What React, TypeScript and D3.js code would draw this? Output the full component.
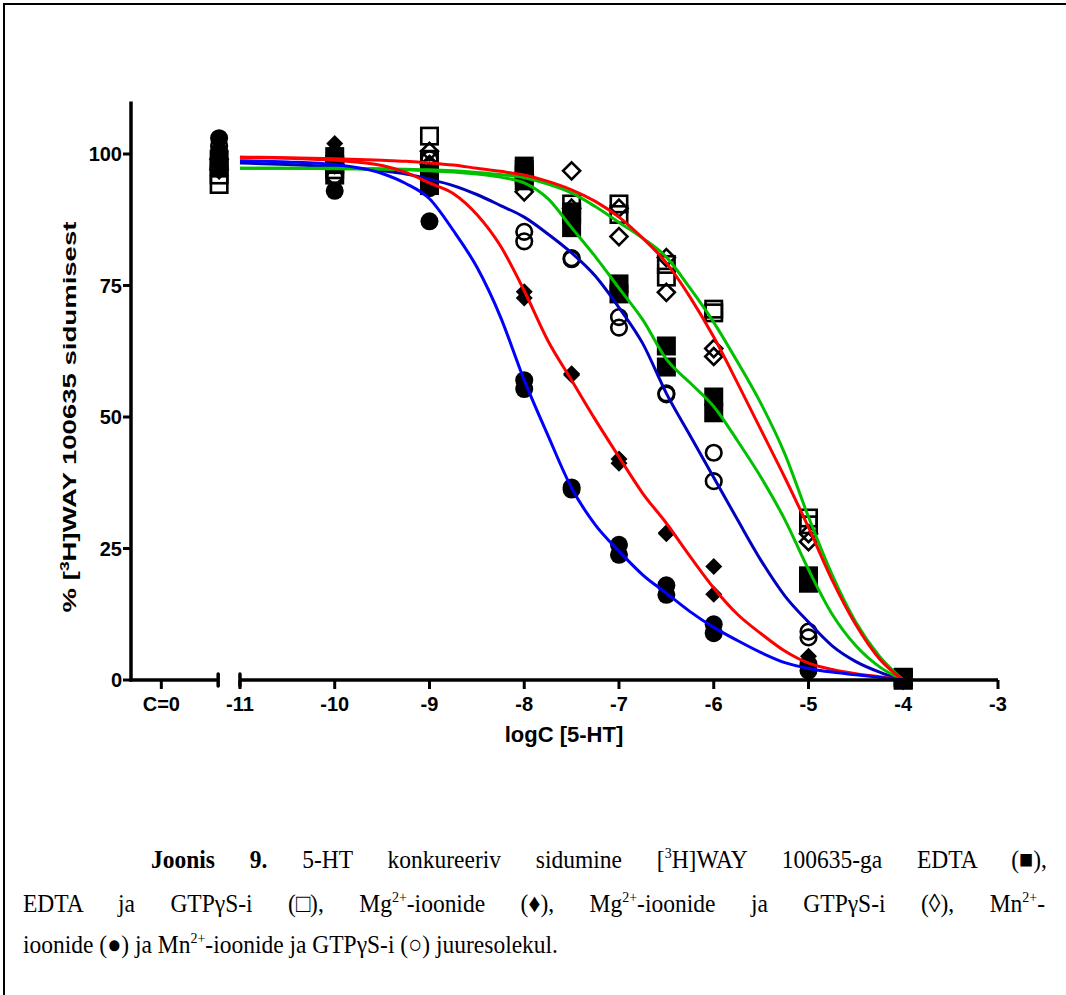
import React, { useLayoutEffect, useRef } from "react";
import * as d3 from "d3";

// ---------- data ----------
const xTickValues = [-11, -10, -9, -8, -7, -6, -5, -4, -3];
const controlTickLabel = "C=0";
const doses = [-11.22, -10, -9, -8, -7.5, -7, -6.5, -6, -5, -4]; // first = control (C=0) column

const edtaRep1 = [99, 99.5, 96, 97.7, 89, 75.3, 63.5, 53.8, 19.8, 0.5];
const edtaRep2 = [97.5, 98, 94, 94.9, 86, 73.4, 59.5, 50.8, 18.4, 0];
const edtaGtpRep1 = [96, 97, 103.4, 97, 90.5, 90.5, 79, 70.5, 30.8, 0.5];
const edtaGtpRep2 = [94.2, 96, 99, 96, 88.5, 88.5, 76.6, 69.8, 29.5, 0];
const mgRep1 = [100, 102, 97, 73.8, 58.2, 42, 28, 21.6, 4.5, 0.5];
const mgRep2 = [101, 100.5, 95, 72.6, 58, 41.2, 27.8, 16.3, 3, 0];
const mgGtpRep1 = [99, 99, 100.5, 92.8, 96.8, 89.7, 80.3, 63, 27.8, 0.3];
const mgGtpRep2 = [97, 98, 98, 96, 89.7, 84.3, 73.7, 61.5, 26.3, 0];
const mnRep1 = [103, 100, 93.5, 57, 36.6, 25.7, 18, 10.6, 3, 0.3];
const mnRep2 = [100.5, 93, 87.2, 55.3, 36.2, 23.8, 16.2, 8.9, 1.8, 0];
const mnGtpRep1 = [101.5, 96, 99, 85.2, 80.2, 69, 54.5, 43.2, 9.2, 0.3];
const mnGtpRep2 = [100, 95.5, 97.5, 83.4, 80, 67, 54.3, 37.8, 8.1, 0];

const curveX = [-11, -10.5, -10, -9.5, -9.25, -9, -8.75, -8.5, -8.25, -8, -7.75, -7.5, -7.25, -7, -6.75, -6.5, -6.25, -6, -5.75, -5.5, -5.25, -5, -4.75, -4.5, -4.25, -4];
const curveMn = [98.7, 98.5, 98.0, 96.3, 94.4, 91.5, 85.5, 78.5, 69, 57, 46.5, 36.5, 29.5, 24.5, 20, 16.5, 13, 10, 7.5, 5.2, 3.3, 2.2, 1.5, 1.0, 0.5, 0];
const curveMg = [99.4, 99.2, 98.8, 97.8, 96.5, 94.5, 92.5, 88.5, 82.5, 74, 64.5, 57, 49.5, 42.4, 35.5, 29.8, 23.5, 17.5, 12.5, 8.8, 5.5, 3.2, 2, 1.2, 0.6, 0];
const curveMnGtp = [98.3, 98.0, 97.6, 96.8, 96.2, 95.2, 94, 92.3, 90.2, 88, 84.8, 81.2, 76.8, 70.8, 64, 54.5, 46.5, 38.5, 30.5, 22.7, 16, 11, 6.5, 3.5, 1.5, 0];
const curveEdta = [97.3, 97.3, 97.2, 97.1, 97, 96.8, 96.6, 96.2, 95.6, 94.5, 91.5, 86, 80.5, 74.5, 68.5, 61, 56.5, 52, 45.5, 38.5, 30.5, 21, 12.5, 6.5, 2.5, 0];
const curveMgGtp = [99.4, 99.3, 99.1, 98.8, 98.6, 98.3, 97.9, 97.3, 96.7, 96, 94.8, 93.2, 91, 88, 84, 79.3, 72.8, 65.2, 56.5, 47.5, 38.5, 29, 19, 10.5, 4, 0];
const curveEdtaGtp = [97.3, 97.3, 97.3, 97.2, 97.1, 97, 96.8, 96.5, 96.1, 95.5, 94.3, 92.6, 90, 87, 84, 80.4, 74.5, 68, 60.5, 52.5, 43, 31, 20, 11, 4.5, 0];

const yTickValues = [0, 25, 50, 75, 100];

// ---------- layout ----------
const W = 1066;
const H = 995;
const x = d3.scaleLinear().domain([-12.15, -3]).range([131, 998]);
const y = d3.scaleLinear().domain([0, 110]).range([680, 101.4]);
const controlTickPos = -11.83;
const breakLeft = -11.23;

type MarkerKind = "fsq" | "osq" | "fdi" | "odi" | "fci" | "oci";

const series: { kind: MarkerKind; reps: number[][] }[] = [
  { kind: "fsq", reps: [edtaRep1, edtaRep2] },
  { kind: "osq", reps: [edtaGtpRep1, edtaGtpRep2] },
  { kind: "fdi", reps: [mgRep1, mgRep2] },
  { kind: "odi", reps: [mgGtpRep1, mgGtpRep2] },
  { kind: "fci", reps: [mnRep1, mnRep2] },
  { kind: "oci", reps: [mnGtpRep1, mnGtpRep2] },
];

const curves: { vals: number[]; color: string }[] = [
  { vals: curveMnGtp, color: "#0000C0" },
  { vals: curveEdta, color: "#00C000" },
  { vals: curveEdtaGtp, color: "#00C000" },
  { vals: curveMgGtp, color: "#FF0000" },
  { vals: curveMg, color: "#FF0000" },
  { vals: curveMn, color: "#0000FF" },
];

function Marker({ kind, cx, cy }: { kind: MarkerKind; cx: number; cy: number }) {
  switch (kind) {
    case "fsq":
      return <rect x={cx - 9.5} y={cy - 9.5} width={19} height={19} fill="#000" />;
    case "osq":
      return <rect x={cx - 8.2} y={cy - 8.2} width={16.4} height={16.4} fill="none" stroke="#000" strokeWidth={2.6} />;
    case "fdi":
      return <path d={`M${cx},${cy - 8.5}L${cx + 8.5},${cy}L${cx},${cy + 8.5}L${cx - 8.5},${cy}Z`} fill="#000" />;
    case "odi":
      return <path d={`M${cx},${cy - 8.5}L${cx + 8.5},${cy}L${cx},${cy + 8.5}L${cx - 8.5},${cy}Z`} fill="none" stroke="#000" strokeWidth={2.6} />;
    case "fci":
      return <circle cx={cx} cy={cy} r={9} fill="#000" />;
    case "oci":
      return <circle cx={cx} cy={cy} r={7.8} fill="none" stroke="#000" strokeWidth={2.6} />;
  }
}

export default function App() {
  const line = d3
    .line<number>()
    .x((_, i) => x(curveX[i]))
    .y((d) => y(d))
    .curve(d3.curveMonotoneX);

  const axisFont = "'Liberation Sans', Arial, sans-serif";
  const capFont = "'Liberation Serif', 'Times New Roman', serif";
  const y0 = y(0);

  const cap1 = useRef<SVGTextElement>(null);
  const cap2 = useRef<SVGTextElement>(null);

  useLayoutEffect(() => {
    const justify = (el: SVGTextElement | null, target: number) => {
      if (!el) return;
      el.setAttribute("word-spacing", "0");
      const natural = el.getComputedTextLength();
      const spaces = (el.textContent || "").split(" ").length - 1;
      if (spaces > 0 && natural < target) {
        el.setAttribute("word-spacing", String((target - natural) / spaces));
      }
    };
    justify(cap1.current, 896);
    justify(cap2.current, 1022);
  }, []);

  const capSize = 23.5;
  const supDy = -9;

  return (
    <svg width={W} height={H} style={{ position: "absolute", left: 0, top: 0, background: "#fff" }}>
      {/* page frame */}
      <path d={`M4,${H} V4 H${W}`} fill="none" stroke="#000" strokeWidth={2} />

      {/* markers */}
      {series.map((s, si) =>
        s.reps.map((rep, ri) =>
          rep.map((v, di) => (
            <Marker key={`${si}-${ri}-${di}`} kind={s.kind} cx={x(doses[di])} cy={y(v)} />
          ))
        )
      )}

      {/* fitted curves */}
      {curves.map((c, i) => (
        <path key={i} d={line(c.vals) ?? ""} fill="none" stroke={c.color} strokeWidth={3} />
      ))}

      {/* y axis */}
      <line x1={x(-12.15)} x2={x(-12.15)} y1={y0 + 1.5} y2={y(110)} stroke="#000" strokeWidth={3.5} />
      {yTickValues.map((t) => (
        <g key={t}>
          <line x1={x(-12.15) - 8} x2={x(-12.15)} y1={y(t)} y2={y(t)} stroke="#000" strokeWidth={3} />
          <text
            x={x(-12.15) - 9}
            y={y(t)}
            dy="0.36em"
            textAnchor="end"
            fontFamily={axisFont}
            fontWeight="bold"
            fontSize={20}
          >
            {t}
          </text>
        </g>
      ))}

      {/* x axis, broken */}
      <line x1={x(-12.15) - 1.5} x2={x(breakLeft)} y1={y0} y2={y0} stroke="#000" strokeWidth={3.5} />
      <line x1={x(-11)} x2={x(-3)} y1={y0} y2={y0} stroke="#000" strokeWidth={3.5} />
      <line x1={x(breakLeft)} x2={x(breakLeft)} y1={y0 - 6} y2={y0 + 6} stroke="#000" strokeWidth={3.5} strokeLinecap="round" />
      <line x1={x(-11)} x2={x(-11)} y1={y0 - 6} y2={y0 + 6} stroke="#000" strokeWidth={3.5} strokeLinecap="round" />
      <line x1={x(controlTickPos)} x2={x(controlTickPos)} y1={y0} y2={y0 + 9} stroke="#000" strokeWidth={3} />
      <text x={x(controlTickPos)} y={y0 + 31} textAnchor="middle" fontFamily={axisFont} fontWeight="bold" fontSize={20}>
        {controlTickLabel}
      </text>
      {xTickValues.map((t) => (
        <g key={t}>
          <line x1={x(t)} x2={x(t)} y1={y0} y2={y0 + 9} stroke="#000" strokeWidth={3} />
          <text x={x(t)} y={y0 + 31} textAnchor="middle" fontFamily={axisFont} fontWeight="bold" fontSize={20}>
            {t}
          </text>
        </g>
      ))}

      {/* axis titles */}
      <text x={564} y={742} textAnchor="middle" fontFamily={axisFont} fontWeight="bold" fontSize={22}>
        logC [5-HT]
      </text>
      <g transform={`translate(76, ${y(50)}) rotate(-90) scale(1.45, 1)`}>
        <text textAnchor="middle" fontFamily={axisFont} fontWeight="bold" fontSize={19}>
          % [<tspan dy={-7} fontSize={12}>3</tspan>
          <tspan dy={7}>H]WAY 100635 sidumisest</tspan>
        </text>
      </g>

      {/* caption */}
      <g transform="translate(0, 868) scale(1, 1.1)">
        <text ref={cap1} x={151} y={0} fontFamily={capFont} fontSize={capSize}>
          <tspan fontWeight="bold">Joonis 9.</tspan> 5-HT konkureeriv sidumine [<tspan dy={supDy} fontSize={14}>3</tspan>
          <tspan dy={-supDy}>H]WAY 100635-ga EDTA (■),</tspan>
        </text>
      </g>
      <g transform="translate(0, 912) scale(1, 1.1)">
        <text ref={cap2} x={23} y={0} fontFamily={capFont} fontSize={capSize}>
          EDTA ja GTPγS-i (□), Mg<tspan dy={supDy} fontSize={14}>2+</tspan>
          <tspan dy={-supDy}>-ioonide (♦), Mg</tspan>
          <tspan dy={supDy} fontSize={14}>2+</tspan>
          <tspan dy={-supDy}>-ioonide ja GTPγS-i (◊), Mn</tspan>
          <tspan dy={supDy} fontSize={14}>2+</tspan>
          <tspan dy={-supDy}>-</tspan>
        </text>
      </g>
      <g transform="translate(0, 953) scale(1, 1.1)">
        <text x={23} y={0} fontFamily={capFont} fontSize={capSize}>
          ioonide (●) ja Mn<tspan dy={supDy} fontSize={14}>2+</tspan>
          <tspan dy={-supDy}>-ioonide ja GTPγS-i (○) juuresolekul.</tspan>
        </text>
      </g>
    </svg>
  );
}
